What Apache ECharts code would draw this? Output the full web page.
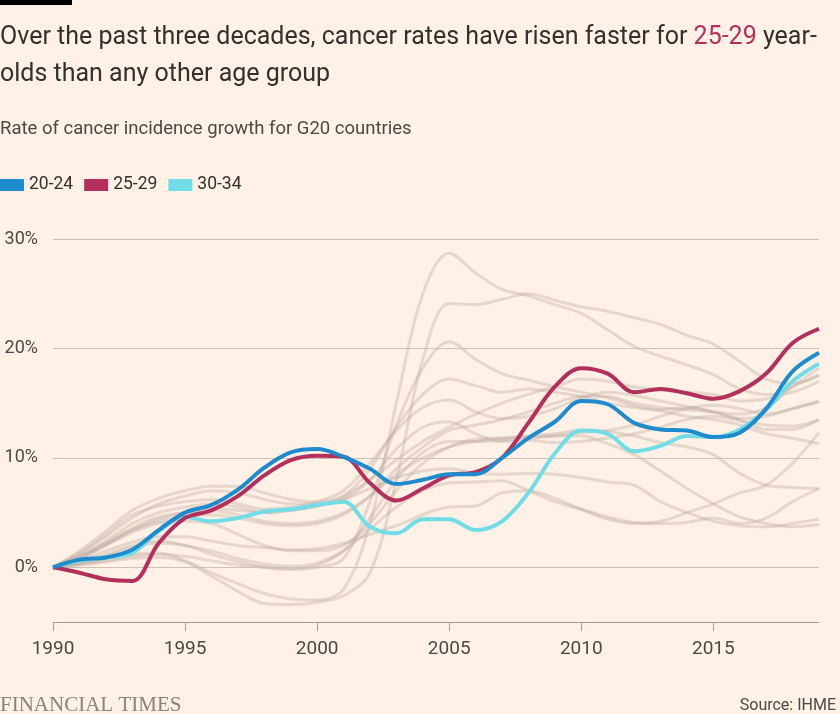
<!DOCTYPE html>
<html>
<head>
<meta charset="utf-8">
<script src="https://cdn.jsdelivr.net/npm/echarts@6/dist/echarts.min.js"></script>
<style>
html,body{margin:0;padding:0;background:#fff1e5;}
#chart{width:840px;height:714px;}
</style>
</head>
<body>
<div id="chart"></div>
<script>
const years = [1990,1991,1992,1993,1994,1995,1996,1997,1998,1999,2000,2001,2002,2003,2004,2005,2006,2007,2008,2009,2010,2011,2012,2013,2014,2015,2016,2017,2018,2019];
const xTicks = [1990,1995,2000,2005,2010,2015];
const yGrid = [0,10,20,30];

const s2024 = [0,0.7,0.9,1.6,3.4,5.0,5.7,7.1,9.1,10.5,10.8,10.1,9.0,7.6,8.0,8.5,8.5,10.0,11.8,13.3,15.2,14.9,13.2,12.6,12.5,11.9,12.3,14.5,17.9,19.6];
const s2529 = [0,-0.5,-1.1,-1.25,2.2,4.5,5.2,6.5,8.4,9.8,10.2,10.1,7.7,6.1,7.2,8.4,8.7,10.0,13.2,16.5,18.2,17.7,16.0,16.3,15.9,15.4,16.1,17.7,20.5,21.8];
const s3034 = [0,0.6,0.9,1.3,3.3,4.6,4.2,4.5,5.1,5.3,5.7,6.0,3.7,3.1,4.4,4.4,3.4,4.2,6.8,10.4,12.5,12.2,10.6,11.1,12.0,11.9,12.6,14.4,17.0,18.6];

const grey1 = [0,0.3,0.8,1.2,1.3,0.6,-0.5,-1.5,-2.4,-2.9,-3.0,-2.0,4.0,15.0,25.0,28.7,26.9,25.4,24.8,24.0,23.2,21.7,20.2,19.3,18.5,17.6,16.3,15.8,16.0,17.0];
const grey2 = [0,0.2,0.5,0.8,0.9,0.5,-0.8,-2.2,-3.3,-3.4,-3.2,-2.6,-0.5,8.0,19.0,24.1,24.0,24.5,25.0,24.4,23.8,23.4,22.8,22.2,21.2,20.4,18.8,17.2,16.8,17.5];
const grey3 = [0,0.5,1.2,2.0,2.4,2.0,1.2,0.5,0.0,-0.2,0.0,0.8,6.0,13.0,18.2,20.6,19.0,17.7,17.1,16.5,16.0,15.5,14.8,14.3,13.8,13.5,13.0,12.2,11.8,11.3];
const grey4 = [0,1.0,2.4,4.0,5.0,5.5,5.8,5.5,5.0,5.2,5.6,6.5,9.0,12.8,15.8,17.2,16.6,16.0,16.3,16.0,15.6,15.0,14.6,14.4,14.6,14.2,13.5,12.6,12.6,13.5];
const grey5 = [0,1.3,3.0,4.8,5.6,6.0,6.2,5.8,5.3,5.5,6.0,7.0,9.5,12.5,14.6,15.3,14.2,13.6,13.8,14.5,15.5,16.0,15.7,15.2,14.7,14.2,13.6,13.8,14.5,15.1];
const grey6 = [0,0.8,2.0,3.4,4.4,5.0,5.4,5.2,5.0,5.2,5.6,6.2,8.0,10.8,12.8,13.3,12.2,11.5,11.6,11.4,11.5,11.8,12.2,12.8,13.5,13.8,13.4,13.0,12.9,13.5];
const grey7 = [0,1.5,3.3,5.2,6.3,7.0,7.4,7.4,6.8,6.2,6.0,6.5,8.0,9.8,11.5,12.8,14.0,15.0,15.8,16.5,17.2,17.0,16.5,16.2,16.0,15.8,15.2,15.4,16.5,17.6];
const grey8 = [0,1.2,2.8,4.5,5.8,6.5,7.0,6.8,6.2,5.8,5.8,6.2,7.2,8.2,8.8,9.0,8.6,8.5,8.6,8.5,8.2,7.8,7.5,6.0,5.0,4.2,3.8,3.7,4.0,4.4];
const grey9 = [0,0.6,1.5,2.3,2.8,2.8,2.4,2.0,1.8,1.6,1.7,2.2,3.0,3.8,4.8,5.5,5.6,6.8,7.0,6.3,5.3,4.4,4.0,4.2,5.0,5.8,6.8,7.5,9.5,12.3];
const grey10 = [0,0.4,1.0,1.8,2.2,2.0,1.5,0.8,0.3,0.1,0.4,1.5,3.5,5.5,7.0,7.7,7.8,7.9,7.0,6.0,5.3,4.6,4.1,4.0,4.1,4.5,4.0,4.5,6.0,7.2];
const grey11 = [0,0.8,2.0,3.2,4.0,4.2,4.0,3.0,2.0,1.5,1.5,2.0,4.0,7.0,9.5,11.0,11.7,11.8,11.9,12.0,12.0,11.3,10.3,8.8,7.2,5.8,4.6,4.0,3.7,3.9];
const grey12 = [0,0.9,2.2,3.6,4.6,5.0,5.2,4.8,4.2,4.0,4.2,5.0,6.5,8.5,10.0,11.0,11.5,11.8,12.0,12.2,12.5,12.4,12.0,11.4,11.0,10.3,8.6,7.5,7.3,7.2];
const grey13 = [0,1.0,2.2,3.4,4.2,4.6,4.8,4.5,4.0,3.8,4.0,4.8,6.5,9.0,11.0,12.5,13.0,13.5,14.2,15.0,15.6,15.6,15.0,14.6,14.4,14.2,14.0,14.6,16.5,18.2];
const grey14 = [0,0.3,0.6,1.0,1.2,1.0,0.6,0.2,0.0,-0.1,0.2,1.5,4.5,8.0,10.5,11.5,11.5,11.6,11.8,12.0,12.3,12.5,13.0,13.8,14.5,14.8,14.5,14.0,14.5,15.2];

const greySeries = [grey1,grey2,grey3,grey4,grey5,grey6,grey7,grey8,grey9,grey10,grey11,grey12,grey13,grey14];

const names = ['20-24','25-29','30-34'];
const colors = {'20-24':'#1e8bcd','25-29':'#b3305c','30-34':'#70dde7'};

function pairs(arr){ return years.map((y,i)=>[y,arr[i]]); }

const series = [];
greySeries.forEach((g,i)=>{
  const s = {
    type:'line', name:'g'+i, data:pairs(g), smooth:0.35, symbol:'none', silent:true,
    lineStyle:{color:'rgba(190,172,160,0.38)', width:3}, z:2
  };
  if(i===0){
    s.markLine = {
      silent:true, symbol:'none', label:{show:false},
      lineStyle:{color:'#cdc0b6', width:1, type:'solid'},
      data: yGrid.map(v=>({yAxis:v}))
    };
  }
  series.push(s);
});
series.push({type:'line', name:'30-34', data:pairs(s3034), smooth:0.35, symbol:'none', lineStyle:{color:colors['30-34'], width:4}, itemStyle:{color:colors['30-34']}, z:5});
series.push({type:'line', name:'25-29', data:pairs(s2529), smooth:0.35, symbol:'none', lineStyle:{color:colors['25-29'], width:4}, itemStyle:{color:colors['25-29']}, z:6});
series.push({type:'line', name:'20-24', data:pairs(s2024), smooth:0.35, symbol:'none', lineStyle:{color:colors['20-24'], width:4}, itemStyle:{color:colors['20-24']}, z:7});

const chart = echarts.init(document.getElementById('chart'), null, {renderer:'canvas'});
const FONT = 'Roboto';
chart.setOption({
  backgroundColor:'#fff1e5',
  animation:false,
  title:[
    {
      left:0, top:19, padding:0,
      text:'{a|Over the past three decades, cancer rates have risen faster for }{r|25-29}{a| year-}\n{a|olds than any other age group}',
      textStyle:{
        fontWeight:'normal',
        rich:{
          a:{fontFamily:FONT, fontSize:25, color:'#33302e', lineHeight:37, fontWeight:'normal'},
          r:{fontFamily:FONT, fontSize:25, color:'#b3305c', fontWeight:'normal', lineHeight:37}
        }
      }
    },
    {
      left:0, top:120, padding:0, text:'Rate of cancer incidence growth for G20 countries',
      textStyle:{fontFamily:FONT, fontSize:18.5, color:'#4d4845', fontWeight:'normal'}
    },
    {
      left:0, top:695, padding:0, text:'FINANCIAL TIMES',
      textStyle:{fontFamily:'Liberation Serif', fontSize:21, color:'#8a827c', fontWeight:'normal'}
    },
    {
      right:4, top:698, padding:0, text:'Source: IHME',
      textStyle:{fontFamily:FONT, fontSize:16, color:'#4d4845', fontWeight:'normal'}
    }
  ],
  graphic:[{type:'rect', left:0, top:0, shape:{width:72, height:5}, style:{fill:'#000'}}],
  legend:{
    left:0, top:176, padding:0, data:names, icon:'rect', itemWidth:24, itemHeight:12, itemGap:11,
    textStyle:{fontFamily:FONT, fontSize:17.5, color:'#33302e'},
    selectedMode:false
  },
  grid:{left:53, right:21, top:239, bottom:92, containLabel:false},
  xAxis:{
    type:'value', min:1990, max:2019, interval:5,
    axisLine:{show:true, onZero:false, lineStyle:{color:'#a69d96', width:1}},
    axisTick:{show:true, length:9, lineStyle:{color:'#a69d96'}, customValues:xTicks},
    axisLabel:{fontFamily:FONT, fontSize:19, color:'#4d4845', margin:18, customValues:xTicks,
      formatter:v=> (v%5===0 ? String(v) : '')},
    splitLine:{show:false}
  },
  yAxis:{
    type:'value', min:-5, max:30, interval:5,
    axisLine:{show:false}, axisTick:{show:false},
    axisLabel:{fontFamily:FONT, fontSize:18, color:'#4d4845', margin:15,
      formatter:v=> (v%10===0 ? v+'%' : '')},
    splitLine:{show:false}
  },
  series:series
});
</script>
</body>
</html>
